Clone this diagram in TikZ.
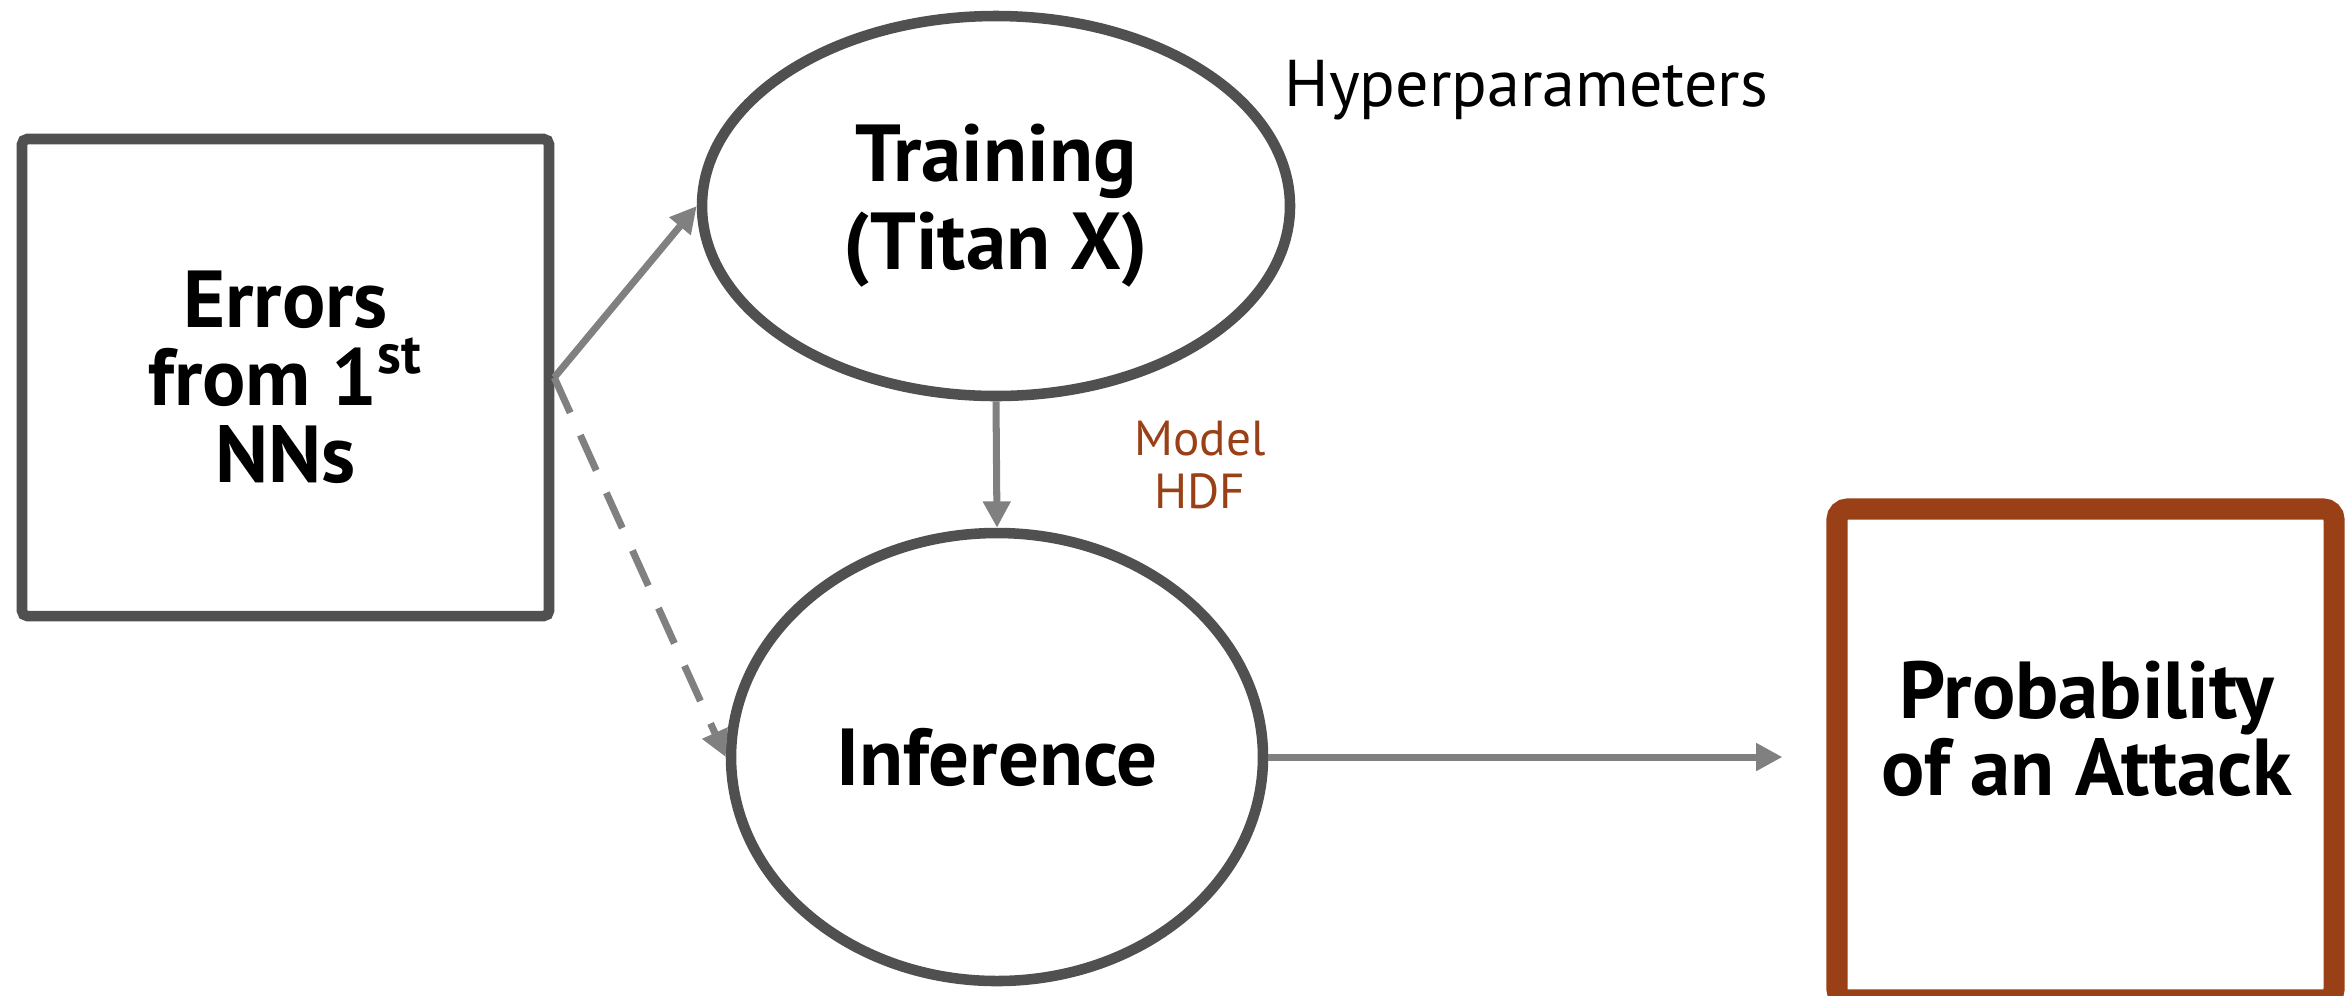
\documentclass[tikz,border=0pt]{standalone}
\usepackage{fontspec}
\setmainfont{PT Sans}
\usepackage{tikz}
\usetikzlibrary{arrows.meta,shapes.geometric}
\definecolor{dgray}{RGB}{80,80,80}
\definecolor{agray}{RGB}{128,128,128}
\definecolor{rust}{RGB}{153,64,22}
\tikzset{
  blk/.style={draw=dgray,line width=3pt,rounded corners=1.5pt,align=center,inner sep=0pt},
  ell/.style={ellipse,draw=dgray,line width=3pt,align=center,inner sep=0pt},
  pbox/.style={draw=rust,line width=6pt,rounded corners=3pt,inner sep=0pt},
  big/.style={font=\fontsize{23}{22}\selectfont\bfseries,align=center},
  fw/.style={draw=agray,line width=2pt,-{Triangle[length=7.5pt,width=7.5pt]}},
  fwd/.style={fw,dash pattern=on 11pt off 7pt},
}
\begin{document}
\begin{tikzpicture}
\useasboundingbox (0,0) rectangle (23.51,-9.95);
\node[blk,big,minimum width=5.27cm,minimum height=4.77cm] (err) at (2.855,-3.775) {Errors\\from 1\textsuperscript{st}\\NNs};
\node[ell,big,font=\fontsize{23}{25}\selectfont\bfseries,minimum width=5.88cm,minimum height=3.80cm] (train) at (9.96,-2.06) {Training\\(Titan X)};
\node[ell,big,minimum width=5.32cm,minimum height=4.48cm] (inf) at (9.97,-7.57) {Inference};
\node[pbox,minimum width=4.97cm,minimum height=4.91cm] (prob) at (20.855,-7.545) {};
\node[big] (probtxt) at (20.87,-7.29) {Probability\\of an Attack};
\node[anchor=west,font=\fontsize{18.8}{20}\selectfont,inner sep=0pt] (hyp) at (12.84,-0.90) {Hyperparameters};
\node[font=\fontsize{14}{15.3}\selectfont,text=rust,align=center] (mdl) at (12.0,-4.65) {Model\\HDF};
\draw[fw] (err.east) -- (train.west);
\draw[fwd] (err.east) -- (inf.west);
\draw[fw] (train.south) -- (inf.north);
\draw[fw,shorten >=0.44cm] (inf.east) -- (inf.east -| prob.west);
\end{tikzpicture}
\end{document}
